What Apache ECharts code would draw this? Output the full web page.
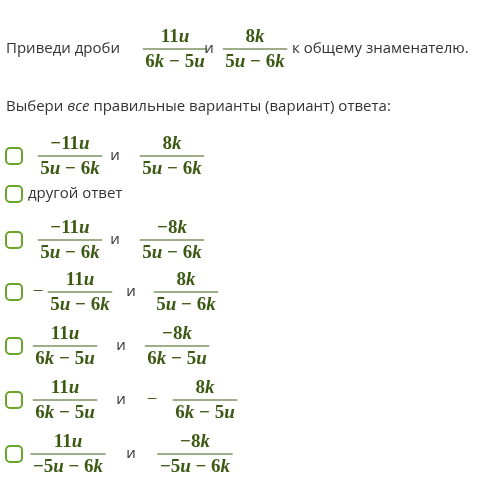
<!DOCTYPE html><html><head><meta charset="utf-8">
<script src="https://cdn.jsdelivr.net/npm/echarts@6/dist/echarts.min.js"></script>
<style>html,body{margin:0;background:#fff}#c{width:500px;height:491px}</style></head><body><div id="c"></div>
<script>
const questionFractions=[["11u","6k − 5u"],["8k","5u − 6k"]];
const answerRows=[
 {y:156,items:[{f:["−11u","5u − 6k"],x:70},{t:"и",x:115},{f:["8k","5u − 6k"],x:172}]},
 {y:194,items:[{t:"другой ответ",x:28,left:true}]},
 {y:240,items:[{f:["−11u","5u − 6k"],x:70},{t:"и",x:115},{f:["−8k","5u − 6k"],x:172}]},
 {y:292,items:[{m:"−",x:38},{f:["11u","5u − 6k"],x:80},{t:"и",x:131},{f:["8k","5u − 6k"],x:186}]},
 {y:346,items:[{f:["11u","6k − 5u"],x:65},{t:"и",x:121},{f:["−8k","6k − 5u"],x:177}]},
 {y:400,items:[{f:["11u","6k − 5u"],x:65},{t:"и",x:121},{m:"−",x:152},{f:["8k","6k − 5u"],x:205}]},
 {y:454,items:[{f:["11u","−5u − 6k"],x:68},{t:"и",x:131},{f:["−8k","−5u − 6k"],x:195}]}
];
const MC='#3d5a14', TC='#333', FS=19;
const cv=document.createElement('canvas').getContext('2d');
function rich(s){return s.replace(/([a-z]+)/g,'{i|$1}');}
function width(s){cv.font='bold '+FS+'px "Liberation Serif"';return cv.measureText(s).width;}
const els=[];
function frac(cx,cy,n,d){
  const w=Math.max(width(n),width(d))+4;
  const st={fontFamily:'Liberation Serif',fontSize:FS,fontWeight:'bold',fill:MC,align:'center',verticalAlign:'middle',rich:{i:{fontStyle:'italic',fontFamily:'Liberation Serif',fontSize:FS,fontWeight:'bold',fill:MC}}};
  els.push({type:'text',x:cx,y:cy-12,style:Object.assign({},st,{text:rich(n)})});
  els.push({type:'text',x:cx,y:cy+13,style:Object.assign({},st,{text:rich(d)})});
  els.push({type:'line',shape:{x1:cx-w/2,y1:cy,x2:cx+w/2,y2:cy},style:{stroke:MC,lineWidth:1}});
}
function txt(x,y,s,align,extra){els.push({type:'text',x:x,y:y,style:Object.assign({text:s,fill:TC,fontFamily:'Open Sans',fontSize:15,align:align||'center',verticalAlign:'middle'},extra||{})});}
txt(6,49,'Приведи дроби','left');
frac(175,49,questionFractions[0][0],questionFractions[0][1]);
txt(209,49,'и');
frac(255,49,questionFractions[1][0],questionFractions[1][1]);
txt(292,49,'к общему знаменателю.','left');
els.push({type:'text',x:6,y:107,style:{text:'Выбери {i|все} правильные варианты (вариант) ответа:',fill:TC,fontFamily:'Open Sans',fontSize:15,verticalAlign:'middle',rich:{i:{fontStyle:'italic',fill:TC,fontFamily:'Open Sans',fontSize:15}}}});
answerRows.forEach(r=>{
  els.push({type:'rect',shape:{x:6,y:r.y-8,width:16,height:16,r:4},style:{fill:'#fff',stroke:'#6aa52b',lineWidth:2}});
  r.items.forEach(it=>{
    if(it.f) frac(it.x,r.y,it.f[0],it.f[1]);
    else if(it.m) els.push({type:'text',x:it.x,y:r.y,style:{text:it.m,fill:MC,fontSize:FS,fontFamily:'Liberation Serif',align:'center',verticalAlign:'middle'}});
    else txt(it.x,r.y,it.t,it.left?'left':'center');
  });
});
const ch=echarts.init(document.getElementById('c'));
ch.setOption({graphic:{elements:els}});
</script></body></html>
